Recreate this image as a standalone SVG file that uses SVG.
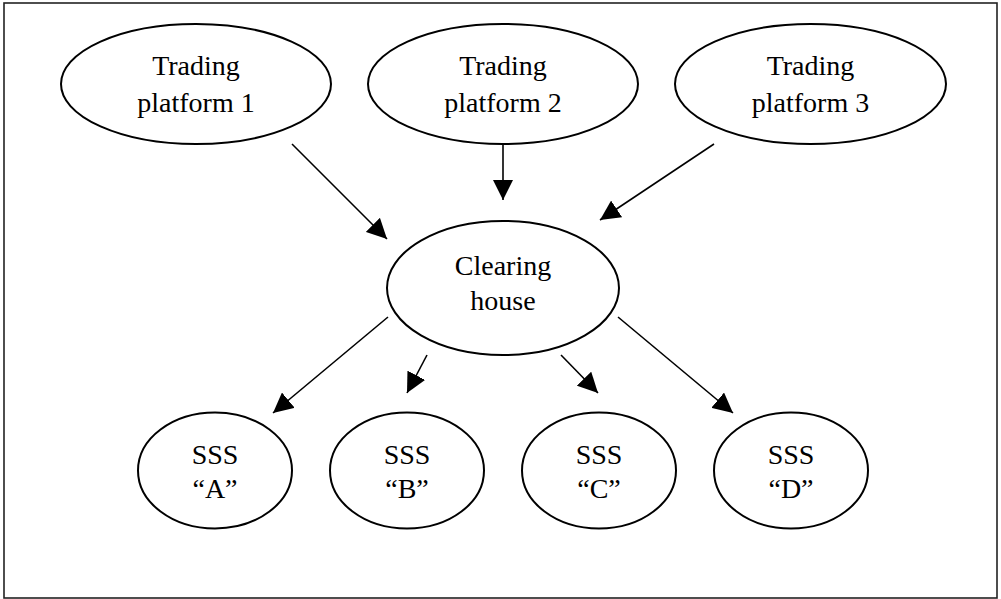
<svg xmlns="http://www.w3.org/2000/svg" width="1001" height="599" viewBox="0 0 1001 599">
<defs>
<style>
.node ellipse{fill:#fff;stroke:#000;stroke-width:2}
.node text{font-family:"Liberation Serif","Times New Roman",serif;font-size:28px;fill:#000;text-anchor:middle}
.edge{stroke:#000;stroke-width:1.6;fill:none;marker-end:url(#ah)}
</style>
<marker id="ah" markerUnits="userSpaceOnUse" viewBox="0 0 20 20" refX="20" refY="10" markerWidth="20" markerHeight="20" orient="auto">
<path d="M0,0 L20,10 L0,20 Z" fill="#000"/>
</marker>
</defs>
<rect x="0" y="0" width="1001" height="599" fill="#fff"/>
<rect x="4" y="3" width="993" height="595" fill="none" stroke="#222" stroke-width="1.6"/>
<g id="connectors">
<line class="edge" x1="292" y1="144" x2="387" y2="239"/>
<line class="edge" x1="503" y1="144" x2="503" y2="200"/>
<line class="edge" x1="714" y1="144" x2="600" y2="220"/>
<line class="edge" x1="388" y1="317" x2="273" y2="413"/>
<line class="edge" x1="427" y1="355" x2="407" y2="393"/>
<line class="edge" x1="561" y1="355" x2="598" y2="393"/>
<line class="edge" x1="618" y1="317" x2="733" y2="413"/>
</g>
<g id="tp1" class="node"><ellipse cx="196" cy="84" rx="135" ry="60"/><text x="196" y="75">Trading</text><text x="196" y="112">platform 1</text></g>
<g id="tp2" class="node"><ellipse cx="503" cy="84" rx="135" ry="60"/><text x="503" y="75">Trading</text><text x="503" y="112">platform 2</text></g>
<g id="tp3" class="node"><ellipse cx="810.5" cy="84" rx="135.5" ry="60"/><text x="810.5" y="75">Trading</text><text x="810.5" y="112">platform 3</text></g>
<g id="ch" class="node"><ellipse cx="503" cy="288" rx="116" ry="67"/><text x="503" y="275">Clearing</text><text x="503" y="310">house</text></g>
<g id="sssA" class="node"><ellipse cx="215" cy="470.5" rx="77" ry="58"/><text x="215" y="464">SSS</text><text x="215" y="498">“A”</text></g>
<g id="sssB" class="node"><ellipse cx="407" cy="470.5" rx="77" ry="58"/><text x="407" y="464">SSS</text><text x="407" y="498">“B”</text></g>
<g id="sssC" class="node"><ellipse cx="599" cy="470.5" rx="77" ry="58"/><text x="599" y="464">SSS</text><text x="599" y="498">“C”</text></g>
<g id="sssD" class="node"><ellipse cx="791" cy="470.5" rx="77" ry="58"/><text x="791" y="464">SSS</text><text x="791" y="498">“D”</text></g>
</svg>
